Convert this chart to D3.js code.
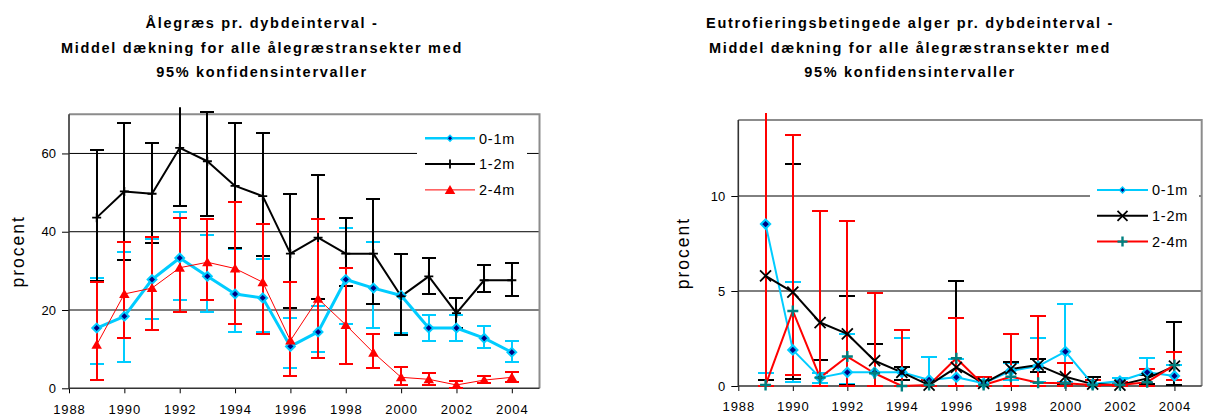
<!DOCTYPE html>
<html><head><meta charset="utf-8">
<script src="https://cdn.jsdelivr.net/npm/d3@7"></script>
<style>body{margin:0;background:#fff}svg{display:block;font-family:Arial,"Liberation Sans",sans-serif}</style>
</head><body><svg id="c" width="1206" height="417"></svg>
<script>
// ---------- DATA ----------
const years = [1989,1990,1991,1992,1993,1994,1995,1996,1997,1998,1999,2000,2001,2002,2003,2004];
const xTicks = [1988,1990,1992,1994,1996,1998,2000,2002,2004];
const seriesNames = ["0-1m","1-2m","2-4m"];

// Left chart: Ålegræs (eelgrass) cover, %
const grass01   = [15.4,18.4,27.8,33.3,28.6,24.1,23.1,10.7,14.4,27.8,25.6,23.7,15.4,15.4,12.8,9.2];
const grass01Hi = [28.2,34.9,38.2,45.0,39.1,35.5,33.0,17.9,20.9,41.0,37.4,34.4,18.6,18.8,15.8,12.2];
const grass01Lo = [6.2,6.6,17.8,22.6,19.6,14.4,14.4,5.1,9.2,16.4,15.4,14.1,12.2,12.2,10.3,6.7];
const grass12   = [43.6,50.3,49.7,61.4,58.0,51.7,49.1,34.4,38.5,34.4,34.4,23.5,28.6,19.2,27.6,27.6];
const grass12Hi = [60.9,67.8,62.6,78.0,70.7,67.8,65.2,49.7,54.4,43.6,48.3,34.2,33.3,23.1,31.4,31.9];
const grass12Lo = [27.5,32.7,37.0,46.6,44.0,35.9,33.9,20.5,22.9,26.2,21.6,13.7,24.1,15.4,24.7,23.5];
const grass24   = [11.1,24.1,25.6,30.8,32.2,30.6,27.1,12.2,22.9,16.2,9.1,2.8,2.3,0.85,2.1,2.8];
const grass24Hi = [27.2,37.4,38.6,43.6,43.2,47.7,42.1,27.2,43.2,30.8,13.8,5.4,4.0,1.95,3.15,4.2];
const grass24Lo = [2.1,12.8,15.0,19.6,22.6,16.4,13.8,3.2,7.8,6.2,5.3,0.85,0.85,0.1,1.3,1.6];
const grassTicks = [0,20,40,60];

// Right chart: Eutrofieringsbetingede alger cover, %
const algae01   = [8.52,1.9,0.44,0.72,0.72,0.72,0.32,0.46,0.14,0.8,1.05,1.81,0.1,0.26,0.72,0.53];
const algae01Hi = [16,5.47,0.7,2.74,2.2,2.51,1.55,1.4,0.3,1.2,2.51,4.32,0.3,0.4,1.46,1.1];
const algae01Lo = [0.7,0.23,0.15,0.1,0,0,0,0,0,0.3,0.2,0.2,0,0.1,0.1,0.3];
const algae12   = [5.8,4.94,3.34,2.74,1.33,0.72,0.05,0.98,0.14,0.9,1.1,0.49,0.1,0.05,0.4,1.05];
const algae12Hi = [16,11.7,9.19,4.74,2.2,1.0,0.3,5.55,0.49,1.25,1.4,1.23,0.49,0.2,0.6,3.39];
const algae12Lo = [0.32,0.35,1.37,0.05,0,0.3,0,0,0,0,0.75,0.1,0,0,0.1,0.05];
const algae24   = [0.05,3.95,0.44,1.55,0.67,0,0.05,1.46,0.05,0.49,0.17,0.14,0.05,0.05,0.2,1.1];
const algae24Hi = [16,13.2,9.19,8.66,4.88,2.95,0.3,3.57,0.49,2.72,3.69,1.23,0.3,0.2,0.88,1.81];
const algae24Lo = [0,0.6,0,0,0,0,0,0,0,0,0,0,0,0,0,0.32];
const algaeTicks = [0,5,10];

const titleLeft = ["Ålegræs pr. dybdeinterval -","Middel dækning for alle ålegræstransekter med","95% konfidensintervaller"];
const titleRight = ["Eutrofieringsbetingede alger pr. dybdeinterval -","Middel dækning for alle ålegræstransekter med","95% konfidensintervaller"];
const yLabel = "procent";

// ---------- DRAW ----------
const svg = d3.select("#c");
svg.append("rect").attr("width",1206).attr("height",417).attr("fill","#fff");
const CYAN="#00ccff", NAVY="#000080", RED="#ff0000", TEAL="#008080";

function marker(g, type, x, y, s){
  if(type==="diamond"){
    g.append("path").attr("d",`M${x},${y-s}L${x+s},${y}L${x},${y+s}L${x-s},${y}Z`)
     .attr("fill",NAVY).attr("stroke",CYAN).attr("stroke-width",s*0.45);
  } else if(type==="plus"){
    g.append("path").attr("d",`M${x-s},${y}H${x+s}M${x},${y-s}V${y+s}`).attr("stroke","#000").attr("stroke-width",1.8);
  } else if(type==="tri"){
    g.append("path").attr("d",`M${x},${y-s}L${x+s*1.05},${y+s*0.8}L${x-s*1.05},${y+s*0.8}Z`).attr("fill",RED);
  } else if(type==="x"){
    g.append("path").attr("d",`M${x-s},${y-s}L${x+s},${y+s}M${x+s},${y-s}L${x-s},${y+s}`).attr("stroke","#000").attr("stroke-width",1.8);
  } else if(type==="tplus"){
    g.append("path").attr("d",`M${x-s},${y}H${x+s}M${x},${y-s}V${y+s}`).attr("stroke",TEAL).attr("stroke-width",2.4);
  }
}

function chart(cfg){
  const x = d3.scaleLinear().domain([1988,2005]).range([cfg.x0,cfg.x1]);
  const y = d3.scaleLinear().domain([0,cfg.ymax]).range([cfg.y0,cfg.y1]);
  const g = svg.append("g");
  const id = "clip"+cfg.id;
  svg.append("clipPath").attr("id",id).append("rect")
    .attr("x",cfg.x0).attr("y",cfg.y1-7).attr("width",cfg.x1-cfg.x0).attr("height",cfg.y0-cfg.y1+8);
  // gridlines
  g.selectAll(".grid").data(cfg.yTicks.filter(d=>d>0)).enter().append("line")
    .attr("x1",cfg.x0).attr("x2",cfg.x1).attr("y1",d=>y(d)).attr("y2",d=>y(d))
    .attr("stroke","#000").attr("stroke-width",1);
  // frame
  g.append("path").attr("d",`M${cfg.x0},${cfg.y1}H${cfg.x1}V${cfg.y0}`).attr("fill","none").attr("stroke","#8c8c8c").attr("stroke-width",2);
  // axes
  const ya = g.append("g").attr("transform",`translate(${cfg.x0},0)`)
    .call(d3.axisLeft(y).tickValues(cfg.yTicks).tickSize(7).tickPadding(6).tickFormat(d3.format("d")));
  ya.select(".domain").remove();
  ya.selectAll("text").attr("font-size",13).attr("fill","#000").attr("font-family","Arial,'Liberation Sans',sans-serif");
  ya.selectAll("line").attr("stroke","#000");
  const xa = g.append("g").attr("transform",`translate(0,${cfg.y0})`)
    .call(d3.axisBottom(x).tickValues(xTicks).tickSize(5).tickPadding(11).tickFormat(d3.format("d")));
  xa.select(".domain").remove();
  xa.selectAll("text").attr("font-size",13).attr("fill","#000").attr("letter-spacing",0.9).attr("font-family","Arial,'Liberation Sans',sans-serif");
  xa.selectAll("line").attr("stroke","#000");
  g.append("path").attr("d",`M${cfg.x0},${cfg.y1}V${cfg.y0}H${cfg.x1}`).attr("fill","none").attr("stroke","#333").attr("stroke-width",1.6);

  // error bars
  const eb = svg.append("g").attr("clip-path",`url(#${id})`).attr("shape-rendering","crispEdges");
  cfg.series.forEach(s=>{
    years.forEach((yr,i)=>{
      const cx = Math.round(x(yr));
      eb.append("line").attr("x1",cx).attr("x2",cx).attr("y1",y(s.hi[i])).attr("y2",y(s.lo[i]))
        .attr("stroke",s.color).attr("stroke-width",s.ebw);
      [s.hi[i],s.lo[i]].forEach(v=>{
        eb.append("line").attr("x1",cx-cfg.cap).attr("x2",cx+cfg.cap).attr("y1",y(v)).attr("y2",y(v))
          .attr("stroke",s.color).attr("stroke-width",s.ebw);
      });
    });
  });
  // lines
  cfg.series.forEach(s=>{
    svg.append("path").datum(s.mean)
      .attr("d",d3.line().x((d,i)=>x(years[i])).y(d=>y(d)))
      .attr("fill","none").attr("stroke",s.color).attr("stroke-width",s.lw).attr("stroke-linejoin","round");
  });
  // markers
  const mg = svg.append("g");
  cfg.series.forEach(s=>{
    s.mean.forEach((d,i)=>marker(mg,s.marker,x(years[i]),y(d),s.ms));
  });
  // legend
  const lg = svg.append("g");
  lg.append("rect").attr("x",cfg.leg.bx).attr("y",cfg.leg.by).attr("width",cfg.leg.bw).attr("height",cfg.leg.bh).attr("fill","#fff");
  cfg.series.forEach((s,k)=>{
    const ly = cfg.leg.y0 + k*cfg.leg.dy;
    lg.append("line").attr("x1",cfg.leg.lx0).attr("x2",cfg.leg.lx1).attr("y1",ly).attr("y2",ly)
      .attr("stroke",s.color).attr("stroke-width",s.llw);
    marker(lg,s.marker,(cfg.leg.lx0+cfg.leg.lx1)/2,ly,s.lms);
    lg.append("text").attr("x",cfg.leg.tx).attr("y",ly).attr("dy","0.36em").attr("font-size",14.5)
      .attr("letter-spacing",0.8).text(seriesNames[k]);
  });
  // title
  const t = svg.append("text").attr("text-anchor","middle").attr("font-weight","bold").attr("font-size",14.5)
    .attr("letter-spacing",1.7);
  cfg.title.forEach((line,k)=>t.append("tspan").attr("x",cfg.tx).attr("y",28+k*24.5).text(line));
  // y label
  svg.append("text").attr("transform",`translate(${cfg.ylx},${(cfg.y0+cfg.y1)/2})rotate(-90)`)
    .attr("text-anchor","middle").attr("font-size",17.5).attr("letter-spacing",2).text(yLabel);
}

chart({id:"L", x0:69, x1:539.5, y0:388.3, y1:114.3, ymax:70, yTicks:grassTicks, cap:7.3,
  title:titleLeft, tx:262, ylx:24,
  leg:{bx:417,by:126,bw:110,bh:76,y0:138.3,dy:25.8,lx0:425,lx1:475,tx:479},
  series:[
    {mean:grass01,hi:grass01Hi,lo:grass01Lo,color:CYAN,lw:3,llw:2.5,ebw:2,marker:"diamond",ms:4.4,lms:3},
    {mean:grass12,hi:grass12Hi,lo:grass12Lo,color:"#000",lw:2,llw:2,ebw:2,marker:"plus",ms:4.5,lms:4.5},
    {mean:grass24,hi:grass24Hi,lo:grass24Lo,color:RED,lw:1,llw:1,ebw:2,marker:"tri",ms:5,lms:5}
  ]});

chart({id:"R", x0:738.3, x1:1201.7, y0:386, y1:120, ymax:14, yTicks:algaeTicks, cap:8,
  title:titleRight, tx:910, ylx:689,
  leg:{bx:1090,by:178,bw:109,bh:76,y0:190,dy:25.8,lx0:1097,lx1:1148,tx:1152},
  series:[
    {mean:algae01,hi:algae01Hi,lo:algae01Lo,color:CYAN,lw:2,llw:2,ebw:2,marker:"diamond",ms:4.6,lms:3},
    {mean:algae12,hi:algae12Hi,lo:algae12Lo,color:"#000",lw:2,llw:2,ebw:2,marker:"x",ms:5.5,lms:5},
    {mean:algae24,hi:algae24Hi,lo:algae24Lo,color:RED,lw:2,llw:2,ebw:2,marker:"tplus",ms:5.5,lms:5}
  ]});
</script></body></html>
